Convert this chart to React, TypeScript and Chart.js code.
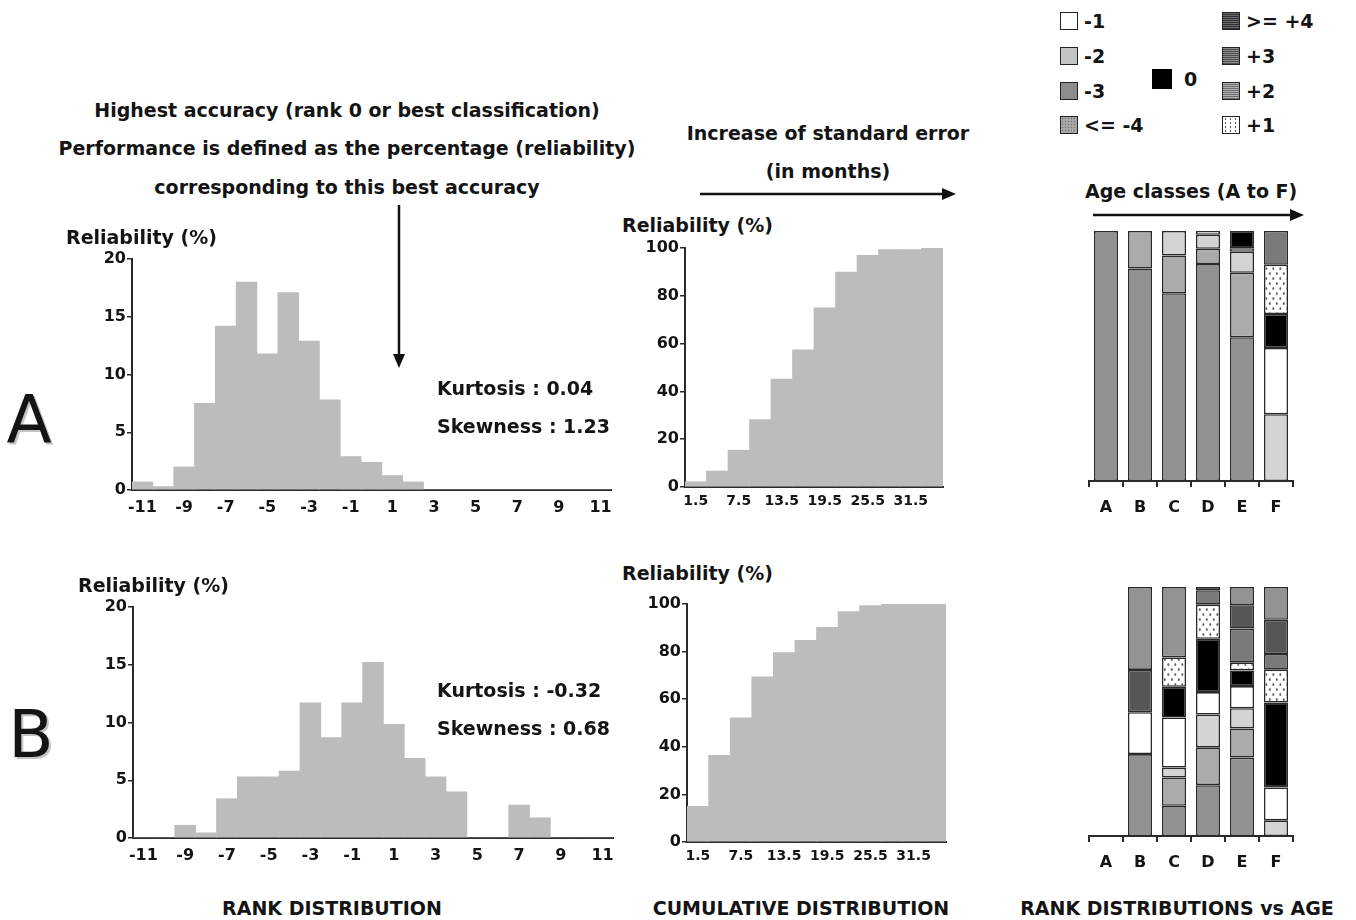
import React, { useEffect, useRef } from 'react';
import { Chart, registerables } from 'chart.js';

Chart.register(...registerables);

// ---------- DATA ----------
const HIST_BINS = [-11, -10, -9, -8, -7, -6, -5, -4, -3, -2, -1, 0, 1, 2, 3, 4, 5, 6, 7, 8, 9, 10, 11];
const RANK_A = [0.7, 0.3, 2.0, 7.5, 14.2, 18.0, 11.8, 17.1, 12.9, 7.8, 2.9, 2.4, 1.25, 0.7, 0, 0, 0, 0, 0, 0, 0, 0, 0];
const RANK_B = [0, 0, 1.1, 0.45, 3.4, 5.3, 5.3, 5.8, 11.7, 8.7, 11.7, 15.2, 9.85, 6.9, 5.3, 4.0, 0, 0, 2.85, 1.75, 0, 0, 0];

const CUM_BINS = ['1.5', '4.5', '7.5', '10.5', '13.5', '16.5', '19.5', '22.5', '25.5', '28.5', '31.5', '34.5'];
const CUM_A = [2.2, 6.7, 15.4, 28.2, 45.2, 57.4, 75.0, 89.9, 96.9, 99.3, 99.3, 100];
const CUM_B = [15.0, 36.4, 52.2, 69.4, 79.6, 84.7, 90.2, 96.8, 99.3, 100, 100, 100];

const AGE_CLASSES = ['A', 'B', 'C', 'D', 'E', 'F'];
const RANK_GROUPS = ['<= -4', '-3', '-2', '-1', '0', '+1', '+2', '+3', '>= +4'];
// rows follow RANK_GROUPS, columns follow AGE_CLASSES (percent)
const AGE_A = [
  [100, 85, 75.1, 86.8, 57.5, 0],
  [0, 15, 15.1, 6.1, 25.8, 0],
  [0, 0, 9.8, 5.6, 8.4, 26.7],
  [0, 0, 0, 1.5, 1.4, 26.5],
  [0, 0, 0, 0, 6.9, 13.6],
  [0, 0, 0, 0, 0, 19.7],
  [0, 0, 0, 0, 0, 13.5],
  [0, 0, 0, 0, 0, 0],
  [0, 0, 0, 0, 0, 0],
];
const AGE_B = [
  [0, 32.9, 12.1, 20.4, 31.5, 0],
  [0, 0, 11.4, 15.2, 11.7, 0],
  [0, 0, 4.0, 13.2, 8.1, 6.3],
  [0, 16.8, 20.1, 9.0, 8.9, 13.2],
  [0, 0, 12.3, 21.4, 6.3, 34.1],
  [0, 0, 11.8, 13.7, 3.1, 13.2],
  [0, 0, 0, 5.8, 13.7, 6.3],
  [0, 17.0, 0, 1.3, 9.4, 13.7],
  [0, 33.3, 28.3, 0, 7.3, 13.2],
];

// ---------- STYLES ----------
const FONT = 'DejaVu Sans';
const TXT = '#141414';
const AXIS = '#2a2a2a';
const BAR_GRAY = '#bcbcbc';
const SEG_COLORS = ['#919191', '#ababab', '#d4d4d4', '#ffffff', '#000000', 'DOTS', '#7a7a7a', '#565656', '#939393'];

function dotPattern(): CanvasPattern | string {
  const c = document.createElement('canvas');
  c.width = 7;
  c.height = 10;
  const g = c.getContext('2d');
  if (!g) return '#eee';
  g.fillStyle = '#ffffff';
  g.fillRect(0, 0, 7, 10);
  g.fillStyle = '#6a6a6a';
  g.beginPath();
  g.ellipse(1.8, 2.5, 1, 1.6, 0, 0, Math.PI * 2);
  g.fill();
  g.beginPath();
  g.ellipse(5.3, 7.5, 1, 1.6, 0, 0, Math.PI * 2);
  g.fill();
  return g.createPattern(c, 'repeat') || '#eee';
}

const f = (size: number) => ({ family: FONT, size, weight: 'bold' as const });

function histConfig(values: number[]): any {
  return {
    type: 'bar',
    data: {
      labels: HIST_BINS.map(String),
      datasets: [{ data: values, backgroundColor: BAR_GRAY, borderWidth: 0, categoryPercentage: 1, barPercentage: 1 }],
    },
    options: {
      animation: false,
      responsive: false,
      maintainAspectRatio: false,
      layout: { padding: { top: 12, right: 10, left: 0, bottom: 0 } },
      plugins: { legend: { display: false }, tooltip: { enabled: false } },
      scales: {
        x: {
          grid: { display: false, drawTicks: false },
          border: { display: true, color: AXIS, width: 2 },
          ticks: {
            autoSkip: false,
            maxRotation: 0,
            padding: 8,
            color: TXT,
            font: f(16),
            callback: (_v: any, i: number) => (HIST_BINS[i] % 2 !== 0 ? String(HIST_BINS[i]) : ''),
          },
          afterFit: (s: any) => { s.height = 30; },
        },
        y: {
          min: 0,
          max: 20,
          ticks: { stepSize: 5, padding: 1, color: TXT, font: f(16) },
          grid: { display: true, drawOnChartArea: false, drawTicks: true, tickLength: 5, color: AXIS, lineWidth: 1.5 },
          border: { display: true, color: AXIS, width: 2 },
          afterFit: (s: any) => { s.width = 50; },
        },
      },
    },
  };
}

function cumConfig(values: number[]): any {
  return {
    type: 'bar',
    data: {
      labels: CUM_BINS,
      datasets: [{ data: values, backgroundColor: BAR_GRAY, borderWidth: 0, categoryPercentage: 1, barPercentage: 1 }],
    },
    options: {
      animation: false,
      responsive: false,
      maintainAspectRatio: false,
      layout: { padding: { top: 12, right: 10, left: 0, bottom: 0 } },
      plugins: { legend: { display: false }, tooltip: { enabled: false } },
      scales: {
        x: {
          grid: { display: false, drawTicks: false },
          border: { display: true, color: AXIS, width: 2 },
          ticks: {
            autoSkip: false,
            maxRotation: 0,
            padding: 6,
            color: TXT,
            font: f(14),
            callback: (_v: any, i: number) => (i % 2 === 0 ? CUM_BINS[i] : ''),
          },
          afterFit: (s: any) => { s.height = 30; },
        },
        y: {
          min: 0,
          max: 100,
          ticks: { stepSize: 20, padding: 1, color: TXT, font: f(16) },
          grid: { display: true, drawOnChartArea: false, drawTicks: true, tickLength: 5, color: AXIS, lineWidth: 1.5 },
          border: { display: true, color: AXIS, width: 2 },
          afterFit: (s: any) => { s.width = 50; },
        },
      },
    },
  };
}

function ageConfig(rows: number[][]): any {
  const dots = dotPattern();
  return {
    type: 'bar',
    data: {
      labels: AGE_CLASSES,
      datasets: RANK_GROUPS.map((g, k) => ({
        label: g,
        data: rows[k].map((v) => (v > 0 ? v : null)),
        backgroundColor: SEG_COLORS[k] === 'DOTS' ? dots : SEG_COLORS[k],
        borderColor: '#2a2a2a',
        borderWidth: 1.6,
        borderSkipped: false,
        stack: 's',
        barPercentage: 0.71,
        categoryPercentage: 1,
      })),
    },
    options: {
      animation: false,
      responsive: false,
      maintainAspectRatio: false,
      layout: { padding: { top: 10, right: 20, left: 10, bottom: 0 } },
      plugins: { legend: { display: false }, tooltip: { enabled: false } },
      scales: {
        x: {
          stacked: true,
          grid: { display: true, drawOnChartArea: false, offset: true, drawTicks: true, tickLength: 6, color: AXIS, lineWidth: 2 },
          border: { display: true, color: AXIS, width: 2 },
          ticks: { color: TXT, font: f(16), padding: 11 },
          afterFit: (s: any) => { s.height = 40; },
        },
        y: { stacked: true, display: false, min: 0, max: 100 },
      },
    },
  };
}

function ChartBox(props: { left: number; top: number; width: number; height: number; make: () => any }) {
  const ref = useRef<HTMLCanvasElement | null>(null);
  useEffect(() => {
    if (!ref.current) return;
    const ch = new Chart(ref.current, props.make());
    return () => ch.destroy();
  }, []);
  return (
    <canvas
      ref={ref}
      width={props.width}
      height={props.height}
      style={{ position: 'absolute', left: props.left, top: props.top, width: props.width, height: props.height }}
    />
  );
}

function T(props: { x: number; y: number; children: any; size?: number; align?: 'left' | 'center'; weight?: string; style?: any }) {
  const { x, y, size = 19, align = 'center', weight = 'bold' } = props;
  return (
    <div
      style={{
        position: 'absolute',
        left: x,
        top: y,
        transform: align === 'center' ? 'translate(-50%, -50%)' : 'translate(0, -50%)',
        fontSize: size,
        fontWeight: weight as any,
        lineHeight: 1,
        whiteSpace: 'nowrap',
        color: TXT,
        ...(props.style || {}),
      }}
    >
      {props.children}
    </div>
  );
}

function Swatch(props: { x: number; y: number; bg: string; size?: number; border?: boolean }) {
  const s = props.size || 18;
  return (
    <div
      style={{
        position: 'absolute',
        left: props.x,
        top: props.y - s / 2,
        width: s,
        height: s,
        boxSizing: 'border-box',
        border: props.border === false ? 'none' : '1.5px solid #222',
        background: props.bg,
      }}
    />
  );
}

const LEGEND_LEFT = [
  { label: '-1', bg: '#ffffff' },
  { label: '-2', bg: '#c4c4c4' },
  { label: '-3', bg: '#8c8c8c' },
  { label: '<= -4', bg: 'radial-gradient(circle, #6a6a6a 0.6px, transparent 1px) 0 0 / 3px 3px, #a6a6a6' },
];
const LEGEND_RIGHT = [
  { label: '>= +4', bg: 'repeating-linear-gradient(0deg, #333 0 1px, #6a6a6a 1px 2px)' },
  { label: '+3', bg: 'repeating-linear-gradient(0deg, #4e4e4e 0 1px, #8a8a8a 1px 2px)' },
  { label: '+2', bg: 'repeating-linear-gradient(0deg, #6e6e6e 0 1px, #b0b0b0 1px 2px)' },
  { label: '+1', bg: 'radial-gradient(ellipse 1px 0.7px, #555 80%, transparent 100%) 0 0 / 5px 4px, #fff' },
];
const LEGEND_ROWS_Y = [21, 56, 91, 125];

export default function App() {
  return (
    <div
      style={{
        position: 'absolute',
        left: 0,
        top: 0,
        width: 1356,
        height: 920,
        background: '#fff',
        fontFamily: FONT,
        overflow: 'hidden',
      }}
    >
      {/* charts */}
      <ChartBox left={82} top={247} width={539} height={273} make={() => histConfig(RANK_A)} />
      <ChartBox left={83} top={595} width={540} height={273} make={() => histConfig(RANK_B)} />
      <ChartBox left={635} top={236} width={318} height={281} make={() => cumConfig(CUM_A)} />
      <ChartBox left={637} top={592} width={319} height={280} make={() => cumConfig(CUM_B)} />
      <ChartBox left={1079} top={221} width={234} height={300} make={() => ageConfig(AGE_A)} />
      <ChartBox left={1079} top={577} width={234} height={299} make={() => ageConfig(AGE_B)} />

      {/* annotations */}
      <T x={347} y={110}>Highest accuracy (rank 0 or best classification)</T>
      <T x={347} y={148}>Performance is defined as the percentage (reliability)</T>
      <T x={347} y={187}>corresponding to this best accuracy</T>
      <T x={828} y={133}>Increase of standard error</T>
      <T x={828} y={171}>(in months)</T>
      <T x={1085} y={191} align="left">Age classes (A to F)</T>

      <T x={66} y={237} align="left">Reliability (%)</T>
      <T x={78} y={585} align="left">Reliability (%)</T>
      <T x={622} y={225} align="left">Reliability (%)</T>
      <T x={622} y={573} align="left">Reliability (%)</T>

      <T x={437} y={388} align="left">Kurtosis : 0.04</T>
      <T x={437} y={426} align="left">Skewness : 1.23</T>
      <T x={437} y={690} align="left">Kurtosis : -0.32</T>
      <T x={437} y={728} align="left">Skewness : 0.68</T>

      <T x={29} y={420} size={66} weight="normal" style={{ textShadow: '2px 2px 0 #c4c4c4' }}>A</T>
      <T x={31} y={735} size={66} weight="normal" style={{ textShadow: '2px 2px 0 #c4c4c4' }}>B</T>

      <T x={332} y={908}>RANK DISTRIBUTION</T>
      <T x={801} y={908}>CUMULATIVE DISTRIBUTION</T>
      <T x={1177} y={908}>RANK DISTRIBUTIONS vs AGE</T>

      {/* legend */}
      {LEGEND_LEFT.map((it, i) => (
        <React.Fragment key={'l' + i}>
          <Swatch x={1060} y={LEGEND_ROWS_Y[i]} bg={it.bg} />
          <T x={1084} y={LEGEND_ROWS_Y[i]} align="left">{it.label}</T>
        </React.Fragment>
      ))}
      {LEGEND_RIGHT.map((it, i) => (
        <React.Fragment key={'r' + i}>
          <Swatch x={1222} y={LEGEND_ROWS_Y[i]} bg={it.bg} />
          <T x={1246} y={LEGEND_ROWS_Y[i]} align="left">{it.label}</T>
        </React.Fragment>
      ))}
      <Swatch x={1152} y={79} bg="#000" size={20} border={false} />
      <T x={1184} y={79} align="left">0</T>

      {/* arrows */}
      <svg width={1356} height={920} style={{ position: 'absolute', left: 0, top: 0, pointerEvents: 'none' }}>
        <line x1={399} y1={205} x2={399} y2={356} stroke="#111" strokeWidth={2.5} />
        <polygon points="393,354 405,354 399,368" fill="#111" />
        <line x1={700} y1={194} x2={944} y2={194} stroke="#111" strokeWidth={2.5} />
        <polygon points="942,188 942,200 956,194" fill="#111" />
        <line x1={1093} y1={215} x2={1292} y2={215} stroke="#111" strokeWidth={2.5} />
        <polygon points="1290,209 1290,221 1304,215" fill="#111" />
      </svg>
    </div>
  );
}
